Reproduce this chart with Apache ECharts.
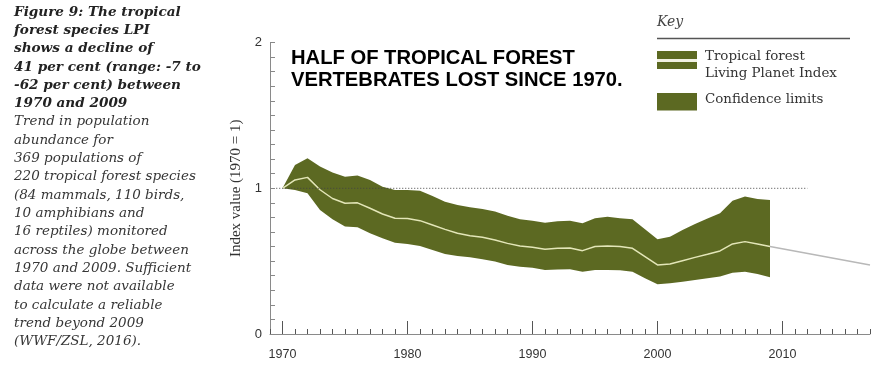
<!DOCTYPE html>
<html>
<head>
<meta charset="utf-8">
<script src="https://cdn.jsdelivr.net/npm/echarts@6/dist/echarts.min.js"></script>
<style>
html,body{margin:0;padding:0;background:#fff;}
#chart{width:871px;height:368px;}
</style>
</head>
<body>
<div id="chart"></div>
<script>
// ---- data ----
var years = [1970,1971,1972,1973,1974,1975,1976,1977,1978,1979,
             1980,1981,1982,1983,1984,1985,1986,1987,1988,1989,
             1990,1991,1992,1993,1994,1995,1996,1997,1998,1999,
             2000,2001,2002,2003,2004,2005,2006,2007,2008,2009];
var lpi = [1.00,1.057,1.075,0.99,0.93,0.897,0.90,0.863,0.824,0.794,
           0.792,0.778,0.748,0.718,0.691,0.675,0.664,0.645,0.622,0.604,
           0.595,0.581,0.588,0.59,0.572,0.60,0.604,0.60,0.588,0.531,
           0.474,0.48,0.503,0.526,0.547,0.57,0.618,0.634,0.618,0.60];
var upper = [1.0,1.16,1.206,1.149,1.108,1.08,1.087,1.057,1.011,0.989,
             0.989,0.984,0.947,0.908,0.886,0.87,0.858,0.84,0.812,0.787,
             0.778,0.764,0.773,0.777,0.76,0.794,0.805,0.794,0.787,0.719,
             0.65,0.668,0.714,0.755,0.792,0.828,0.915,0.943,0.927,0.92];
var lower = [1.0,0.989,0.966,0.851,0.787,0.737,0.732,0.691,0.657,0.627,
             0.618,0.604,0.577,0.549,0.535,0.526,0.513,0.497,0.474,0.462,
             0.455,0.439,0.442,0.444,0.428,0.439,0.439,0.437,0.428,0.382,
             0.341,0.348,0.359,0.371,0.382,0.394,0.421,0.428,0.412,0.389];
var trendYears = [2009, 2017];
var trendValues = [0.60, 0.474];
var baselineYears = [1969.5, 2012];
var baselineValues = [1, 1];
var xTickLabels = [1970, 1980, 1990, 2000, 2010];
var yTickLabels = [0, 1, 2];
var headline = ["HALF OF TROPICAL FOREST", "VERTEBRATES LOST SINCE 1970."];
var captionBold = ["Figure 9: The tropical","forest species LPI","shows a decline of",
  "41 per cent (range: -7 to","-62 per cent) between","1970 and 2009"];
var captionBody = ["Trend in population","abundance for","369 populations of",
  "220 tropical forest species","(84 mammals, 110 birds,","10 amphibians and",
  "16 reptiles) monitored","across the globe between","1970 and 2009. Sufficient",
  "data were not available","to calculate a reliable","trend beyond 2009","(WWF/ZSL, 2016)."];
var keyTitle = "Key";
var keyItems = ["Tropical forest\nLiving Planet Index", "Confidence limits"];

// ---- styles ----
var OLIVE = '#5c6922';
var CREAM = '#e3e6b8';
var SERIF = '"DejaVu Serif", "Liberation Serif", serif';
var NARROW = '"Liberation Sans Narrow", "Arial Narrow", "Liberation Sans", sans-serif';

function pairs(xs, ys) { return xs.map(function (x, i) { return [x, ys[i]]; }); }

var graphics = [];
captionBold.concat(captionBody).forEach(function (line, i) {
  var bold = i < captionBold.length;
  graphics.push({
    type: 'text', x: 14, y: 12 + i * 18.33,
    style: { text: line, fill: bold ? '#222' : '#363636',
      font: (bold ? 'italic bold 13.6px ' : 'italic 13.5px ') + SERIF,
      align: 'left', verticalAlign: 'middle' }
  });
});
headline.forEach(function (line, i) {
  graphics.push({
    type: 'text', x: 291, y: 58.3 + i * 22.2,
    style: { text: line, fill: '#000', font: 'bold 20.2px "Liberation Sans", Arial, sans-serif',
      align: 'left', verticalAlign: 'middle' }
  });
});
// key
graphics.push({ type: 'text', x: 657, y: 22, style: { text: keyTitle, fill: '#444',
  font: 'italic 14px ' + SERIF, align: 'left', verticalAlign: 'middle' } });
graphics.push({ type: 'line', shape: { x1: 657, y1: 38.5, x2: 850, y2: 38.5 },
  style: { stroke: '#555', lineWidth: 1.5 } });
graphics.push({ type: 'rect', shape: { x: 657, y: 51, width: 40, height: 18 }, style: { fill: OLIVE } });
graphics.push({ type: 'line', shape: { x1: 657, y1: 60.5, x2: 697, y2: 60.5 },
  style: { stroke: '#f2f2e4', lineWidth: 3 } });
graphics.push({ type: 'rect', shape: { x: 657, y: 93, width: 40, height: 17.5 }, style: { fill: OLIVE } });
graphics.push({ type: 'text', x: 705, y: 65, style: { text: keyItems[0], fill: '#333',
  font: '13.4px ' + SERIF, lineHeight: 16.5, align: 'left', verticalAlign: 'middle' } });
graphics.push({ type: 'text', x: 705, y: 99.5, style: { text: keyItems[1], fill: '#333',
  font: '13.4px ' + SERIF, align: 'left', verticalAlign: 'middle' } });

var bandData = years.map(function (y, i) { return [y, lower[i], upper[i]]; });

var option = {
  animation: false,
  backgroundColor: '#fff',
  grid: [
    { left: 270, width: 600, top: 42.6, bottom: 34 },
    { left: 282.5, width: 500, top: 42.6, bottom: 34 }
  ],
  xAxis: [
    { type: 'value', gridIndex: 0, min: 1969, max: 2017, interval: 1,
      axisLine: { show: true, lineStyle: { color: '#8a8a8a', width: 1 } },
      axisTick: { show: true, inside: true, length: 5, lineStyle: { color: '#555' } },
      axisLabel: { show: false }, splitLine: { show: false } },
    { type: 'value', gridIndex: 1, min: xTickLabels[0], max: xTickLabels[xTickLabels.length - 1], interval: 10,
      axisLine: { show: false },
      axisTick: { show: true, inside: true, length: 13, lineStyle: { color: '#555' } },
      axisLabel: { show: true, margin: 14, color: '#333', fontSize: 12.5, fontFamily: NARROW,
        formatter: function (v) { return String(v); } },
      splitLine: { show: false } }
  ],
  yAxis: [
    { type: 'value', gridIndex: 0, min: yTickLabels[0], max: yTickLabels[yTickLabels.length - 1], interval: 0.1,
      axisLine: { show: true, lineStyle: { color: '#8a8a8a', width: 1 } },
      axisTick: { show: true, inside: true, length: 5, lineStyle: { color: '#888' } },
      axisLabel: { show: true, margin: 8, color: '#333', fontSize: 13, fontFamily: NARROW,
        formatter: function (v) {
          var r = Math.round(v);
          return (Math.abs(v - r) < 1e-6 && yTickLabels.indexOf(r) >= 0) ? String(r) : '';
        } },
      splitLine: { show: false },
      name: 'Index value (1970 = 1)', nameLocation: 'middle', nameGap: 24, nameRotate: 90,
      nameTextStyle: { fontFamily: '"Liberation Serif", serif', fontSize: 15, color: '#333' } },
    { type: 'value', gridIndex: 1, min: 0, max: 2, show: false }
  ],
  graphic: graphics,
  series: [
    { name: 'Confidence limits', type: 'custom', data: bandData, z: 2,
      encode: { x: 0, y: [1, 2] },
      renderItem: function (params, api) {
        if (params.dataIndex !== 0) return null;
        var pts = [];
        for (var i = 0; i < bandData.length; i++) pts.push(api.coord([bandData[i][0], bandData[i][2]]));
        for (var j = bandData.length - 1; j >= 0; j--) pts.push(api.coord([bandData[j][0], bandData[j][1]]));
        return { type: 'polygon', shape: { points: pts }, style: { fill: OLIVE } };
      }, silent: true },
    { name: 'trend', type: 'line', symbol: 'none', data: pairs(trendYears, trendValues), z: 3,
      lineStyle: { color: '#b8b8b8', width: 1.5 } },
    { name: 'Tropical forest Living Planet Index', type: 'line', symbol: 'none', z: 4,
      data: pairs(years, lpi), lineStyle: { color: CREAM, width: 1.5 } },
    { name: 'baseline', type: 'line', symbol: 'none', data: pairs(baselineYears, baselineValues),
      lineStyle: { color: '#444', width: 1, type: [1, 2] }, z: 5 }
  ]
};
var chart = echarts.init(document.getElementById('chart'), null, { renderer: 'canvas' });
chart.setOption(option);
</script>
</body>
</html>
